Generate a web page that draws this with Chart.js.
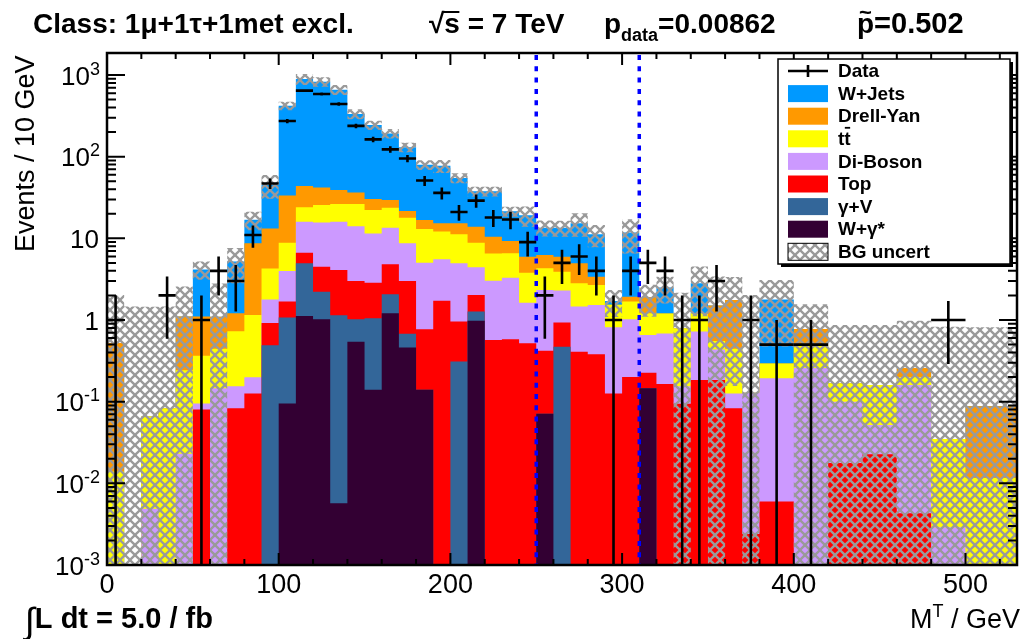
<!DOCTYPE html>
<html>
<head>
<meta charset="utf-8">
<script src="https://cdn.jsdelivr.net/npm/chart.js@4.4.1/dist/chart.umd.min.js"></script>
<style>
  html, body { margin: 0; padding: 0; background: #ffffff; }
  canvas { display: block; }
</style>
</head>
<body>
<canvas id="c" width="1026" height="639"></canvas>
<script>
// Bin edges in GeV: 10 GeV bins up to 380, 20 GeV bins above
const binEdges = [0,10,20,30,40,50,60,70,80,90,100,110,120,130,140,150,160,170,180,190,
  200,210,220,230,240,250,260,270,280,290,300,310,320,330,340,350,360,370,380,
  400,420,440,460,480,500,540];

// Background contributions, events / 10 GeV per bin (stacked bottom to top)
const wGammaStar = [0,0,0,0,0,0,0,0,0,0,
  0.095,1.12,1.02,0.0057,0.54,0.14,1.21,0.46,0.14,0,
  0,0.98,0,0,0,0.071,0,0,0,0,
  0,0.146,0,0,0,0,0,0,
  0,0,0,0,0,0,0];
const gammaV = [0,0,0,0,0,0,0,0,0,0.49,
  0.98,3.82,1.2,1.14,0.48,0.91,0.85,0.22,0,0,
  0.31,0.29,0,0,0,0,0.47,0,0,0,
  0,0,0,0,0,0,0,0,
  0,0,0,0,0,0,0];
const singleTop = [0,0,0,0,0,0.08,0,0.083,0.126,0.43,
  0.61,1.73,2.28,2.95,1.98,1.81,2.74,2.33,0.63,1.72,
  0.65,0.75,0.57,0.58,0.52,0.35,0.46,0.41,0.38,0.126,
  0.2,0.08,0.165,0.094,0.184,0.184,0.083,0.0024,
  0.006,0,0.0178,0.0227,0.0043,0,0];
const diBoson = [0,0,0.0049,0,0.023,0.015,0.146,0.072,0.073,0.86,
  2.3,9.3,11.1,11.9,11.1,8.6,8.7,5.7,4.26,3.81,
  3.99,2.4,2.46,2.72,1.11,1.91,1.36,1.05,1.15,0.69,
  0.82,0.43,0.52,0.06,0.54,0.25,0.043,0.126,
  0.187,0.258,0.082,0.029,0.156,0.0029,0];
const ttbar = [0.014,0,0.061,0.083,0.22,0.27,0.30,0.575,0.95,2.5,
  4.87,8.0,10,10.3,12.2,10.7,10.2,9.2,8.0,6.6,
  6.3,4.4,3.5,3.25,2.17,1.96,1.61,1.35,1.15,0.72,
  0.66,0.55,0.52,0.64,0.49,0.12,0.32,0,
  0.1,0.236,0.068,0.108,0.04,0.032,0.0116];
const drellYan = [0.51,0,0,0,0.86,0.74,0.65,0.48,7.55,8.9,
  24.5,19.7,16.4,12.7,10,8.1,5.8,3.7,3.7,3.2,
  4.1,5.05,3.95,2.75,2.16,1.96,2.06,2.13,0.71,0,
  0.25,0.69,0,0,0,0.95,1.31,0,
  0,0.28,0,0,0.058,0,0.076];
const wJets = [0,0,0,0,0,3.05,0,4.0,8.2,31.8,
  387,848,786,623,297,214,163,109,63,62,
  39.5,23.8,27.2,12.1,13.2,7.25,7.5,10.4,7.8,0.17,
  9.9,0,1.29,0,1.6,0,0,0,
  1.49,0,0,0,0,0,0];

// Total background uncertainty per bin
const bgUncert = [1.5,1.46,1.39,1.38,1.46,1.05,1.71,2.4,4.3,14.5,
  51,137,108,93,47,32,25,17,11,14,
  7.7,5.2,5.2,3.0,5.3,3.0,3.0,4.9,3.4,0.62,
  5.3,0.8,0.9,1.37,1.7,1.9,1.6,1.9,
  1.31,0.78,0.7,0.71,0.72,0.79,0.73];

// Observed data, events / 10 GeV, with statistical errors
const dataValues = [1,null,null,2,null,1,4,3,11,47,
  273,643,585,442,238,163,123,95,51,36,
  21,29,18,17,9,2,5,6,4,1,
  4,5,4,1,1,3,null,1,
  0.5,0.5,null,null,null,1,null];
const dataErrors = [1,null,null,1.41,null,1,2,1.73,3.32,6.86,
  16.5,25.4,24.2,21.0,15.4,12.8,11.1,9.75,7.14,6.0,
  4.58,5.39,4.24,4.12,3.0,1.41,2.24,2.45,2,1,
  2,2.24,2,1,1,1.73,null,1,
  0.5,0.5,null,null,null,0.71,null];

// Region of interest boundaries (GeV)
const roiEdges = [250, 310];

// Axis ticks
const xMajorTicks = [0, 100, 200, 300, 400, 500];
const yDecades = [-3, -2, -1, 0, 1, 2, 3];

const processes = [
  { label: 'W+Jets',   values: wJets,      color: '#0099ff' },
  { label: 'Drell-Yan',values: drellYan,   color: '#ff9900' },
  { label: 'tt',       values: ttbar,      color: '#ffff00' },
  { label: 'Di-Boson', values: diBoson,    color: '#cc99ff' },
  { label: 'Top',      values: singleTop,  color: '#ff0000' },
  { label: 'γ+V',      values: gammaV,     color: '#336699' },
  { label: 'W+γ*',     values: wGammaStar, color: '#330033' }
];

const FONT = '"Liberation Sans", Arial, Helvetica, sans-serif';
const FLOOR = 1e-6;
const nBins = binEdges.length - 1;
const binCenters = binEdges.slice(0, -1).map((e, i) => (e + binEdges[i + 1]) / 2);

const canvas = document.getElementById('c');
const ctx2d = canvas.getContext('2d');

function makeHatch() {
  const t = document.createElement('canvas');
  t.width = 10; t.height = 10;
  const g = t.getContext('2d');
  g.strokeStyle = '#9a9a9a';
  g.lineWidth = 2.3;
  for (const d of [-10, 0, 10]) {
    g.beginPath(); g.moveTo(d, 0); g.lineTo(d + 10, 10); g.stroke();
    g.beginPath(); g.moveTo(d + 10, 0); g.lineTo(d, 10); g.stroke();
  }
  return ctx2d.createPattern(t, 'repeat');
}
const hatch = makeHatch();

// stepped outline points: value of bin i held from edge i to edge i+1
function steps(vals) {
  const pts = vals.map((v, i) => ({ x: binEdges[i], y: v > 0 ? v : FLOOR }));
  const last = vals[vals.length - 1];
  pts.push({ x: binEdges[nBins], y: last > 0 ? last : FLOOR });
  return pts;
}

// cumulative stack levels, bottom (W+γ*) upwards
const stackBottomUp = processes.slice().reverse();
let running = new Array(nBins).fill(0);
const stackLevels = stackBottomUp.map(p => {
  running = running.map((v, i) => v + p.values[i]);
  return { p, level: running.slice() };
});
const total = running.slice();
const bandHi = total.map((t, i) => t + bgUncert[i]);
const bandLo = total.map((t, i) => Math.max(t - bgUncert[i], FLOOR));

const datasets = [];
datasets.push({
  type: 'scatter', label: 'Data',
  data: binCenters.map((c, i) => ({ x: c, y: dataValues[i] })),
  pointRadius: 0, showLine: false
});
datasets.push({
  label: 'BG uncert', data: steps(bandHi), stepped: true,
  borderWidth: 0, pointRadius: 0, fill: '+1', backgroundColor: hatch
});
datasets.push({
  label: 'band low', data: steps(bandLo), stepped: true,
  borderWidth: 0, pointRadius: 0, fill: false
});
stackLevels.forEach(({ p, level }) => {
  datasets.push({
    label: p.label, data: steps(level), stepped: true,
    borderWidth: 0, pointRadius: 0, fill: 'start', backgroundColor: p.color
  });
});

function drawRuns(ctx, runs, x, y, align) {
  let w = 0;
  runs.forEach(r => { ctx.font = `${r.bold ? 'bold ' : ''}${r.size}px ${FONT}`; r.w = ctx.measureText(r.t).width; w += r.w + (r.gap || 0); });
  let cx = align === 'right' ? x - w : x;
  ctx.textAlign = 'left';
  ctx.textBaseline = 'alphabetic';
  ctx.fillStyle = '#000';
  const pos = [];
  runs.forEach(r => {
    ctx.font = `${r.bold ? 'bold ' : ''}${r.size}px ${FONT}`;
    ctx.fillText(r.t, cx, y + (r.dy || 0));
    pos.push(cx);
    cx += r.w + (r.gap || 0);
  });
  return pos;
}

const rootStyle = {
  id: 'rootStyle',
  afterDatasetsDraw(chart) {
    const { ctx, chartArea: a, scales: { x, y } } = chart;
    ctx.save();
    ctx.beginPath();
    ctx.rect(a.left, a.top, a.right - a.left, a.bottom - a.top);
    ctx.clip();
    // region of interest markers
    ctx.strokeStyle = '#0000ff';
    ctx.lineWidth = 3.5;
    ctx.setLineDash([5, 6.3]);
    roiEdges.forEach(v => {
      const px = x.getPixelForValue(v);
      ctx.beginPath(); ctx.moveTo(px, a.top + 2); ctx.lineTo(px, a.bottom); ctx.stroke();
    });
    ctx.setLineDash([]);
    // data points with error bars
    ctx.strokeStyle = '#000';
    ctx.lineWidth = 2.6;
    dataValues.forEach((v, i) => {
      if (v == null) return;
      const x0 = x.getPixelForValue(binEdges[i]);
      const x1 = x.getPixelForValue(binEdges[i + 1]);
      const xc = x.getPixelForValue(binCenters[i]);
      const yc = y.getPixelForValue(v);
      const lo = v - dataErrors[i];
      const yl = lo > y.min ? y.getPixelForValue(lo) : a.bottom;
      const yh = y.getPixelForValue(v + dataErrors[i]);
      ctx.beginPath();
      ctx.moveTo(x0, yc); ctx.lineTo(x1, yc);
      ctx.moveTo(xc, yh); ctx.lineTo(xc, yl);
      ctx.stroke();
    });
    ctx.restore();
  },
  afterDraw(chart) {
    const { ctx, chartArea: a, scales: { x, y } } = chart;
    ctx.save();
    // frame
    ctx.strokeStyle = '#000';
    ctx.lineWidth = 2.5;
    ctx.strokeRect(a.left, a.top, a.right - a.left, a.bottom - a.top);
    // x ticks (inward, bottom and top)
    ctx.lineWidth = 2;
    ctx.beginPath();
    for (let v = 0; v <= x.max; v += 20) {
      const px = x.getPixelForValue(v);
      const len = v % 100 === 0 ? 12 : 6;
      ctx.moveTo(px, a.bottom); ctx.lineTo(px, a.bottom - len);
      ctx.moveTo(px, a.top); ctx.lineTo(px, a.top + len);
    }
    // y ticks (inward, left and right)
    yDecades.forEach(e => {
      for (let m = 1; m <= 9; m++) {
        const v = m * Math.pow(10, e);
        if (v < y.min * 0.999 || v > y.max) continue;
        const py = y.getPixelForValue(v);
        const len = m === 1 ? 18 : 9;
        ctx.moveTo(a.left, py); ctx.lineTo(a.left + len, py);
        ctx.moveTo(a.right, py); ctx.lineTo(a.right - len, py);
      }
    });
    ctx.stroke();

    // x tick labels
    ctx.fillStyle = '#000';
    ctx.font = `27px ${FONT}`;
    ctx.textAlign = 'center';
    ctx.textBaseline = 'alphabetic';
    xMajorTicks.forEach(v => ctx.fillText(String(v), x.getPixelForValue(v), 593));

    // y tick labels
    yDecades.forEach(e => {
      const py = y.getPixelForValue(Math.pow(10, e)) + 9.5;
      if (e === 0) drawRuns(ctx, [{ t: '1', size: 26 }], 99, py, 'right');
      else if (e === 1) drawRuns(ctx, [{ t: '10', size: 26 }], 99, py, 'right');
      else drawRuns(ctx, [{ t: '10', size: 26 }, { t: String(e), size: 18, dy: -10 }], 100, py, 'right');
    });

    // axis titles
    ctx.save();
    ctx.translate(34, 252);
    ctx.rotate(-Math.PI / 2);
    ctx.font = `27px ${FONT}`;
    ctx.textAlign = 'left';
    ctx.fillText('Events / 10 GeV', 0, 0);
    ctx.restore();
    drawRuns(ctx, [{ t: 'M', size: 27 }, { t: 'T', size: 18, dy: -11 }, { t: ' / GeV', size: 27 }], 1020, 628, 'right');
    drawRuns(ctx, [{ t: '∫', size: 36, dy: 5 }, { t: 'L dt = 5.0 / fb', size: 29, bold: true }], 25, 628);

    // header line
    drawRuns(ctx, [{ t: 'Class: 1μ+1τ+1met excl.', size: 28, bold: true }], 33, 33);
    const rs = drawRuns(ctx, [{ t: '√', size: 28, bold: true }, { t: 's = 7 TeV', size: 28, bold: true }], 429, 33);
    ctx.lineWidth = 2;
    ctx.beginPath(); ctx.moveTo(rs[1] - 2, 12); ctx.lineTo(rs[1] + 15, 12); ctx.stroke();
    drawRuns(ctx, [{ t: 'p', size: 28, bold: true }, { t: 'data', size: 18, bold: true, dy: 8 }, { t: '=0.00862', size: 28, bold: true }], 604, 33);
    const pt = drawRuns(ctx, [{ t: 'p', size: 28, bold: true }, { t: '=0.502', size: 29, bold: true }], 857, 33);
    ctx.font = `bold 22px ${FONT}`;
    ctx.textAlign = 'center';
    ctx.fillText('~', pt[0] + 8.5, 20);

    // legend
    const L = { x: 778, y: 59, w: 232, h: 205 };
    ctx.fillStyle = '#000';
    ctx.fillRect(L.x + 3, L.y + 3, L.w, L.h);
    ctx.fillStyle = '#fff';
    ctx.fillRect(L.x, L.y, L.w, L.h);
    ctx.lineWidth = 1.5;
    ctx.strokeStyle = '#000';
    ctx.strokeRect(L.x, L.y, L.w, L.h);
    const rowY0 = 71, rowDy = 22.6, sx = 788, sw = 40, sh = 17, tx = 838;
    const entries = [{ label: 'Data', kind: 'data' }]
      .concat(processes.map(p => ({ label: p.label, kind: 'fill', color: p.color })))
      .concat([{ label: 'BG uncert', kind: 'hatch' }]);
    entries.forEach((en, k) => {
      const cy = rowY0 + k * rowDy;
      if (en.kind === 'data') {
        ctx.lineWidth = 2.6;
        ctx.beginPath();
        ctx.moveTo(sx, cy); ctx.lineTo(sx + sw, cy);
        ctx.moveTo(sx + sw / 2, cy - 6); ctx.lineTo(sx + sw / 2, cy + 6);
        ctx.stroke();
      } else if (en.kind === 'fill') {
        ctx.fillStyle = en.color;
        ctx.fillRect(sx, cy - sh / 2, sw, sh);
      } else {
        ctx.fillStyle = hatch;
        ctx.fillRect(sx, cy - sh / 2, sw, sh);
        ctx.lineWidth = 1;
        ctx.strokeRect(sx, cy - sh / 2, sw, sh);
      }
      ctx.fillStyle = '#000';
      ctx.font = `bold 19px ${FONT}`;
      ctx.textAlign = 'left';
      ctx.textBaseline = 'middle';
      ctx.fillText(en.label, tx, cy + 1);
      if (en.label === 'tt') {
        const w1 = ctx.measureText('t').width;
        const w2 = ctx.measureText('tt').width;
        ctx.lineWidth = 1.8;
        ctx.beginPath(); ctx.moveTo(tx + w1 + 0.5, cy - 11); ctx.lineTo(tx + w2 - 0.5, cy - 11); ctx.stroke();
      }
      ctx.textBaseline = 'alphabetic';
    });
    ctx.restore();
  }
};

new Chart(ctx2d, {
  type: 'line',
  data: { datasets },
  options: {
    responsive: false,
    animation: false,
    layout: { padding: { left: 107, top: 53, right: 9, bottom: 74 } },
    scales: {
      x: { type: 'linear', min: 0, max: 530, display: false },
      y: { type: 'logarithmic', min: 1e-3, max: 1860, display: false }
    },
    plugins: {
      legend: { display: false },
      tooltip: { enabled: false }
    },
    elements: { line: { tension: 0 }, point: { radius: 0 } }
  },
  plugins: [rootStyle]
});
</script>
</body>
</html>
